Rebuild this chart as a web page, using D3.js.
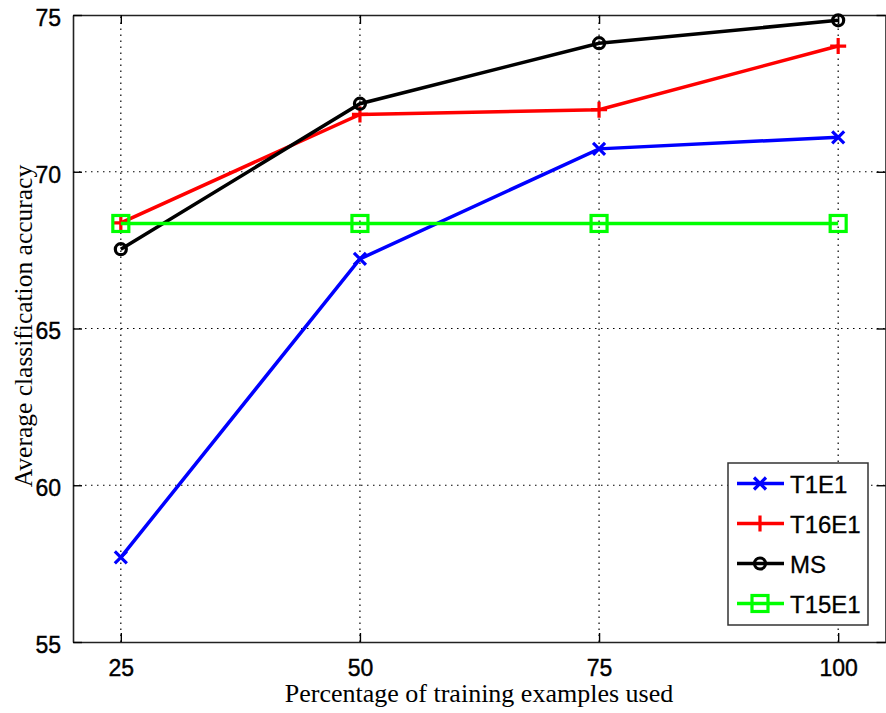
<!DOCTYPE html>
<html>
<head>
<meta charset="utf-8">
<script src="https://cdn.jsdelivr.net/npm/d3@7"></script>
<style>
  body { margin: 0; background: #fff; }
  svg { display: block; }
</style>
</head>
<body>
<div id="chart"></div>
<script>
// training percentage vs accuracy

const percents = [25, 50, 75, 100];
const t1e1 = [57.7, 67.22, 70.73, 71.1];
const t16e1 = [68.37, 71.83, 71.98, 74.01];
const ms = [67.53, 72.17, 74.1, 74.83];
const t15e1 = [68.35, 68.35, 68.35, 68.35];
const yTicks = [55, 60, 65, 70, 75];

const series = [
  { name: "T1E1", values: t1e1, color: "#0000ff", marker: "x" },
  { name: "T16E1", values: t16e1, color: "#ff0000", marker: "plus" },
  { name: "MS", values: ms, color: "#000000", marker: "circle" },
  { name: "T15E1", values: t15e1, color: "#00ff00", marker: "square" }
];

const width = 886;
const height = 713;
const margin = { top: 15, right: 0, bottom: 71, left: 73 };

const x = d3.scaleLinear().domain([20, 105]).range([margin.left, width - margin.right]);
const y = d3.scaleLinear().domain([55, 75]).range([height - margin.bottom, margin.top]);

const svg = d3.select("#chart").append("svg")
    .attr("width", width)
    .attr("height", height);

const x0 = x.range()[0], x1 = x.range()[1];
const y0 = y.range()[0], y1 = y.range()[1];

// dotted grid
svg.append("g")
    .attr("stroke", "#000")
    .attr("stroke-width", 1.2)
    .attr("stroke-dasharray", "1.5,4.5")
  .call(g => g.selectAll(".gx").data(percents).join("line")
      .attr("x1", d => x(d)).attr("x2", d => x(d))
      .attr("y1", y0).attr("y2", y1))
  .call(g => g.selectAll(".gy").data(yTicks.slice(1, -1)).join("line")
      .attr("class", "gy")
      .attr("y1", d => y(d)).attr("y2", d => y(d))
      .attr("x1", x0).attr("x2", x1));

function tickText(g) {
  g.selectAll(".tick text")
      .attr("font-family", "Liberation Sans, Arial, sans-serif")
      .attr("font-size", 23)
      .attr("fill", "#000")
      .attr("stroke", "#000")
      .attr("stroke-width", 0.4);
}

// axes, ticks pointing in, mirrored
svg.append("g")
    .attr("transform", `translate(0,${y0})`)
    .call(d3.axisBottom(x).tickValues(percents).tickSizeInner(-9).tickSizeOuter(0).tickPadding(18))
    .call(g => g.select(".domain").attr("stroke-width", 1.6).attr("stroke", "#222"))
    .call(g => g.selectAll(".tick line").attr("stroke-width", 1.4))
    .call(tickText);

svg.append("g")
    .attr("transform", `translate(0,${y1})`)
    .call(d3.axisTop(x).tickValues(percents).tickSizeInner(-9).tickSizeOuter(0).tickFormat(""))
    .call(g => g.select(".domain").attr("stroke-width", 1.6).attr("stroke", "#222"))
    .call(g => g.selectAll(".tick line").attr("stroke-width", 1.4));

svg.append("g")
    .attr("transform", `translate(${x0},0)`)
    .call(d3.axisLeft(y).tickValues(yTicks).tickSizeInner(-9).tickSizeOuter(0).tickPadding(12))
    .call(g => g.select(".domain").attr("stroke-width", 1.6).attr("stroke", "#222"))
    .call(g => g.selectAll(".tick line").attr("stroke-width", 1.4))
    .call(tickText)
    .call(g => g.selectAll(".tick text").attr("dy", "0.45em"));

svg.append("g")
    .attr("transform", `translate(${x1 - 0.5},0)`)
    .call(d3.axisRight(y).tickValues(yTicks).tickSizeInner(-9).tickSizeOuter(0).tickFormat(""))
    .call(g => g.select(".domain").attr("stroke-width", 1.6).attr("stroke", "#222"))
    .call(g => g.selectAll(".tick line").attr("stroke-width", 1.4));

// axis titles
svg.append("text")
    .attr("x", 479)
    .attr("y", 702)
    .attr("text-anchor", "middle")
    .attr("font-family", "Liberation Serif, Times New Roman, serif")
    .attr("font-size", 26)
    .text("Percentage of training examples used");

svg.append("text")
    .attr("transform", `translate(32,${326}) rotate(-90)`)
    .attr("text-anchor", "middle")
    .attr("font-family", "Liberation Serif, Times New Roman, serif")
    .attr("font-size", 25.5)
    .text("Average classification accuracy");

// markers
function drawMarker(g, type, color, cx, cy) {
  if (type === "x") {
    g.append("path")
        .attr("d", `M${cx - 6},${cy - 6}L${cx + 6},${cy + 6}M${cx - 6},${cy + 6}L${cx + 6},${cy - 6}`)
        .attr("stroke", color).attr("stroke-width", 3.2).attr("fill", "none");
  } else if (type === "plus") {
    g.append("path")
        .attr("d", `M${cx - 8},${cy}L${cx + 8},${cy}M${cx},${cy - 8}L${cx},${cy + 8}`)
        .attr("stroke", color).attr("stroke-width", 3.2).attr("fill", "none");
  } else if (type === "circle") {
    g.append("circle")
        .attr("cx", cx).attr("cy", cy).attr("r", 5.5)
        .attr("stroke", color).attr("stroke-width", 3.2).attr("fill", "none");
  } else if (type === "square") {
    g.append("rect")
        .attr("x", cx - 8).attr("y", cy - 8).attr("width", 16).attr("height", 16)
        .attr("stroke", color).attr("stroke-width", 3.2).attr("fill", "none");
  }
}

const line = d3.line()
    .x((d, i) => x(percents[i]))
    .y(d => y(d));

series.forEach(s => {
  const g = svg.append("g");
  g.append("path")
      .attr("d", line(s.values))
      .attr("fill", "none")
      .attr("stroke", s.color)
      .attr("stroke-width", 3.5);
  s.values.forEach((v, i) => drawMarker(g, s.marker, s.color, x(percents[i]), y(v)));
});

// legend
const legend = svg.append("g");
legend.append("rect")
    .attr("x", 728).attr("y", 463)
    .attr("width", 140).attr("height", 162)
    .attr("fill", "#fff")
    .attr("stroke", "#333")
    .attr("stroke-width", 1.5);

series.forEach((s, i) => {
  const ly = 483.5 + i * 40;
  legend.append("line")
      .attr("x1", 737).attr("x2", 784)
      .attr("y1", ly).attr("y2", ly)
      .attr("stroke", s.color).attr("stroke-width", 3.5);
  drawMarker(legend, s.marker, s.color, 760, ly);
  legend.append("text")
      .attr("x", 790)
      .attr("y", ly)
      .attr("dy", "0.38em")
      .attr("font-family", "Liberation Sans, Arial, sans-serif")
      .attr("font-size", 24)
      .attr("stroke", "#000")
      .attr("stroke-width", 0.3)
      .text(s.name);
});
</script>
</body>
</html>
